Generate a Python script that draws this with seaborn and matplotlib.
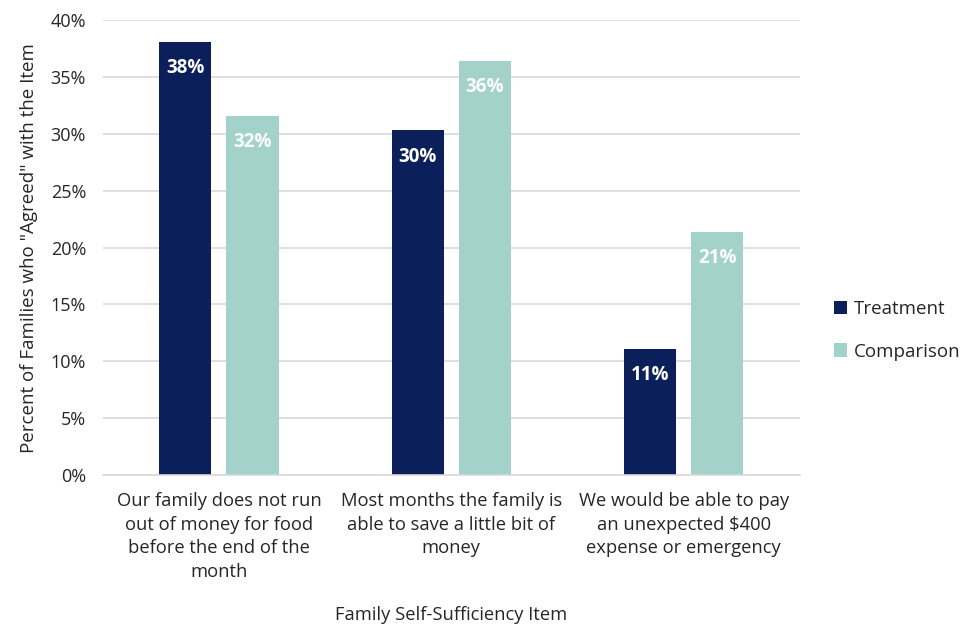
import matplotlib
matplotlib.use("Agg")
import matplotlib.pyplot as plt
import seaborn as sns
import pandas as pd

categories = [
    "Our family does not run\nout of money for food\nbefore the end of the\nmonth",
    "Most months the family is\nable to save a little bit of\nmoney",
    "We would be able to pay\nan unexpected \\$400\nexpense or emergency",
]
groups = ["Treatment", "Comparison"]
treatment = [38.1, 30.3, 11.1]
comparison = [31.6, 36.4, 21.4]
y_ticks = [0, 5, 10, 15, 20, 25, 30, 35, 40]

colors = {"Treatment": "#0b1f5a", "Comparison": "#a2d2ca"}

df = pd.DataFrame({
    "item": categories * 2,
    "group": ["Treatment"] * 3 + ["Comparison"] * 3,
    "value": treatment + comparison,
})

sns.set_theme(style="white")
plt.rcParams["font.family"] = ["Open Sans", "DejaVu Sans"]

fig = plt.figure(figsize=(9.69, 6.31), dpi=100)
ax = fig.add_axes([0.106, 0.2472, 0.7196, 0.7208])

sns.barplot(data=df, x="item", y="value", hue="group", hue_order=groups,
            palette=colors, width=0.578, gap=0.225, ax=ax, saturation=1,
            edgecolor="none", linewidth=0, legend=True)

ax.set_ylim(0, 40)
ax.set_xlim(-0.5, 2.5)
ax.set_yticks(y_ticks)
ax.set_yticklabels([f"{t}%" for t in y_ticks], fontsize=13, color="#262626")
ax.tick_params(axis="both", length=0)
ax.tick_params(axis="y", pad=12)
ax.tick_params(axis="x", pad=12)
for lbl in ax.get_xticklabels():
    lbl.set_fontsize(13.2)
    lbl.set_color("#262626")
    lbl.set_linespacing(1.42)

ax.yaxis.grid(True, color="#d9d9d9", linewidth=1.2)
ax.set_axisbelow(True)
for s in ["top", "right", "left"]:
    ax.spines[s].set_visible(False)
ax.spines["bottom"].set_color("#d9d9d9")
ax.spines["bottom"].set_linewidth(1.2)

for container in ax.containers:
    ax.bar_label(container, labels=[f"{round(v.get_height())}%" for v in container],
                 label_type="edge", padding=-26, color="white",
                 fontsize=13.5, fontweight="bold")

ax.set_xlabel("Family Self-Sufficiency Item", fontsize=13.2, color="#262626", labelpad=18)
ax.set_ylabel('Percent of Families who "Agreed" with the Item', fontsize=13.5,
              color="#262626", labelpad=9)

leg = ax.legend(loc="center left", bbox_to_anchor=(1.024, 0.318), frameon=False,
                fontsize=13.5, handlelength=0.7, handleheight=0.7,
                handletextpad=0.4, labelspacing=1.3)
for t in leg.get_texts():
    t.set_color("#262626")

fig.savefig("out.png", dpi=100, facecolor="white")
